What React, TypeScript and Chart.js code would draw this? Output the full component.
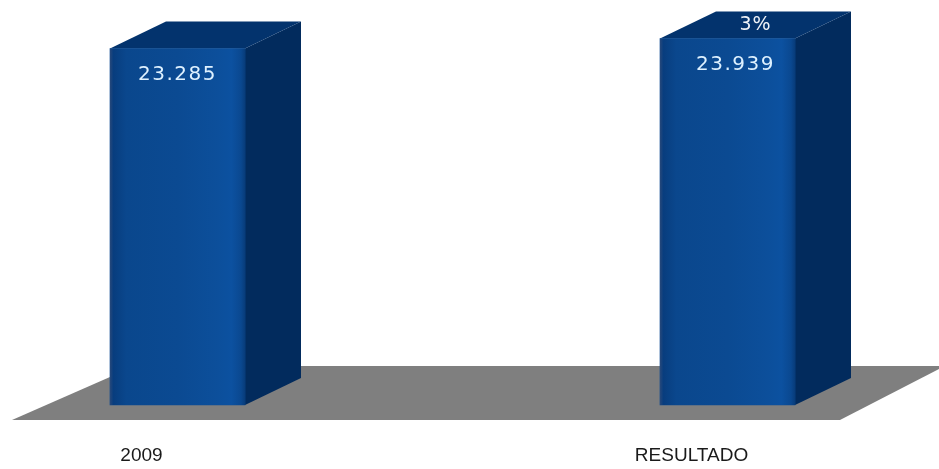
import React, { useEffect, useRef } from 'react';
import { Chart, registerables } from 'chart.js';

Chart.register(...registerables);

const categories = ['2009', 'RESULTADO'];
const values = [23285, 23939];
const changeLabels = ['', '3%'];

const DEPTH_X = 56;
const DEPTH_Y = 27;

function formatThousands(v: number): string {
  const s = Math.round(v).toString();
  return s.replace(/\B(?=(\d{3})+(?!\d))/g, '.');
}

const bar3dPlugin = {
  id: 'bar3d',
  beforeDatasetsDraw(chart: any) {
    const ctx = chart.ctx;
    const yScale = chart.scales.y;
    const base = yScale.getPixelForValue(0);
    const w = chart.width;
    // floor
    ctx.save();
    ctx.beginPath();
    ctx.moveTo(12, base + 15);
    ctx.lineTo(w - 99, base + 15);
    ctx.lineTo(w + 6, base - 39);
    ctx.lineTo(135, base - 39);
    ctx.closePath();
    ctx.fillStyle = '#7f7f7f';
    ctx.fill();
    ctx.restore();

    const meta = chart.getDatasetMeta(0);
    meta.data.forEach((el: any) => {
      const { x, y, base: b, width } = el.getProps(['x', 'y', 'base', 'width'], true);
      const left = x - width / 2;
      const right = x + width / 2;
      ctx.save();
      // side face
      ctx.beginPath();
      ctx.moveTo(right, y);
      ctx.lineTo(right + DEPTH_X, y - DEPTH_Y);
      ctx.lineTo(right + DEPTH_X, b - DEPTH_Y);
      ctx.lineTo(right, b);
      ctx.closePath();
      ctx.fillStyle = '#022b5d';
      ctx.fill();
      // top face
      ctx.beginPath();
      ctx.moveTo(left, y);
      ctx.lineTo(left + DEPTH_X, y - DEPTH_Y);
      ctx.lineTo(right + DEPTH_X, y - DEPTH_Y);
      ctx.lineTo(right, y);
      ctx.closePath();
      ctx.fillStyle = '#03336d';
      ctx.fill();
      ctx.restore();
    });
  },
  afterDatasetsDraw(chart: any) {
    const ctx = chart.ctx;
    const meta = chart.getDatasetMeta(0);
    meta.data.forEach((el: any, i: number) => {
      const { x, y, base: b, width } = el.getProps(['x', 'y', 'base', 'width'], true);
      const left = x - width / 2;
      const right = x + width / 2;
      ctx.save();
      const g = ctx.createLinearGradient(left, 0, right, 0);
      g.addColorStop(0, '#27487a');
      g.addColorStop(0.025, '#083d7e');
      g.addColorStop(0.12, '#0a478d');
      g.addColorStop(0.5, '#0b4a92');
      g.addColorStop(0.8, '#0c4f9b');
      g.addColorStop(0.9, '#0c51a0');
      g.addColorStop(0.97, '#0a4890');
      g.addColorStop(1, '#083c7a');
      ctx.fillStyle = g;
      ctx.fillRect(left, y, right - left, b - y);

      // value label
      ctx.fillStyle = '#def1ff';
      ctx.font = '20px "DejaVu Sans", Verdana, sans-serif';
      (ctx as any).letterSpacing = '1.5px';
      ctx.textAlign = 'center';
      ctx.textBaseline = 'middle';
      ctx.fillText(formatThousands(values[i]), x + (i === 1 ? 8 : 0), y + 26);

      // change label on top face
      const c = changeLabels[i];
      if (c) {
        ctx.fillStyle = '#eef2f7';
        ctx.font = '19px "DejaVu Sans", Verdana, sans-serif';
        (ctx as any).letterSpacing = '1px';
        ctx.fillText(c, x + DEPTH_X / 2, y - DEPTH_Y / 2);
      }
      ctx.restore();
    });
  },
};

export default function App() {
  const canvasRef = useRef<HTMLCanvasElement | null>(null);

  useEffect(() => {
    document.body.style.margin = '0';
    const canvas = canvasRef.current;
    if (!canvas) return;
    const chart = new Chart(canvas, {
      type: 'bar',
      data: {
        labels: categories,
        datasets: [
          {
            data: values,
            backgroundColor: '#0b4a92',
            borderWidth: 0,
            barThickness: 135,
            clip: false as any,
          },
        ],
      },
      options: {
        animation: false,
        responsive: true,
        maintainAspectRatio: false,
        layout: { padding: { left: 177.5, right: 211.5, top: 10, bottom: 0 } },
        plugins: {
          legend: { display: false },
          tooltip: { enabled: false },
        },
        scales: {
          x: {
            offset: false,
            grid: { display: false, drawTicks: false },
            border: { display: false },
            ticks: {
              color: '#1a1a1a',
              font: { family: '"Liberation Sans", Arial, sans-serif', size: 19 },
              padding: 39,
              labelOffset: -36,
              maxRotation: 0,
              autoSkip: false,
            },
            afterFit: (scale: any) => {
              scale.height = 64;
            },
          },
          y: {
            display: false,
            min: 0,
            max: 25800,
          },
        },
      },
      plugins: [bar3dPlugin],
    });
    return () => chart.destroy();
  }, []);

  return (
    <div style={{ position: 'relative', width: 939, height: 469, background: '#ffffff' }}>
      <canvas ref={canvasRef} />
    </div>
  );
}
